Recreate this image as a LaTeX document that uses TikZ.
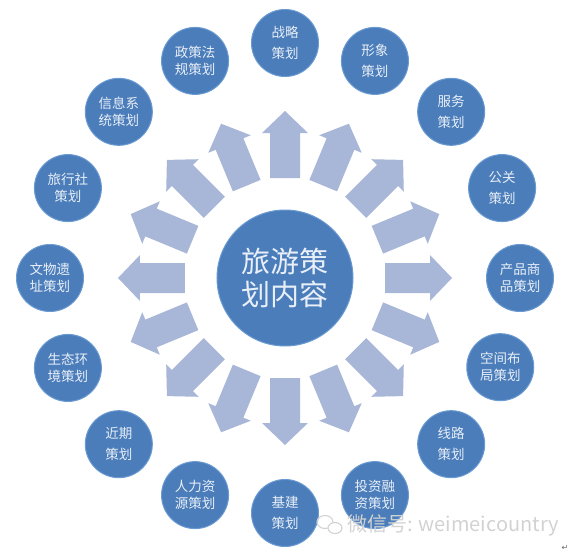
\documentclass[tikz,border=0pt]{standalone}
\usepackage{fontspec}
\newfontfamily\cjk{Noto Sans CJK SC}
\newfontfamily\dejavu{DejaVu Sans}
\definecolor{circblue}{HTML}{4A7DBA}
\definecolor{circrim}{HTML}{6A9AD2}
\definecolor{arrowfill}{HTML}{A8B7D7}
\definecolor{txtlight}{HTML}{E9EFF8}
\definecolor{wmark}{HTML}{D2D2D2}
\tikzset{
  bubble/.style={circle, fill=circblue, draw=circrim, line width=1pt,
    minimum size=67pt, inner sep=0pt, text=txtlight, align=center,
    font=\cjk\fontsize{13.5}{17}\selectfont},
  bubblewide/.style={bubble, font=\cjk\fontsize{13.5}{21}\selectfont},
  hub/.style={circle, fill=circblue, draw=circrim, line width=1pt,
    minimum size=136pt, inner sep=0pt, text=txtlight, align=center,
    font=\cjk\fontsize{29}{33}\selectfont},
  blockarrow/.style={fill=arrowfill},
}
\begin{document}
\begin{tikzpicture}[x=1pt,y=1pt]
\useasboundingbox (-285,-277) rectangle (287,278);
% radial block arrows
\foreach \a in {0,22.5,...,337.5}{
  \fill[blockarrow, rotate=\a]
    (100,-15) -- (145,-15) -- (145,-23) -- (167,0) -- (145,23)
    -- (145,15) -- (100,15) -- cycle;
}
% hub
\node[hub] (c) at (0,0) {旅游策\\划内容};
% outer bubbles
\node[bubblewide] (o1)  at (90:235)    {战略\\策划};
\node[bubblewide] (o2)  at (67.5:235)  {形象\\策划};
\node[bubblewide] (o3)  at (45:235)    {服务\\策划};
\node[bubblewide] (o4)  at (22.5:235)  {公关\\策划};
\node[bubble]     (o5)  at (0:235)     {产品商\\品策划};
\node[bubble]     (o6)  at (-22.5:233) {空间布\\局策划};
\node[bubblewide] (o7)  at (-45:235)   {线路\\策划};
\node[bubble]     (o8)  at (-67.5:235) {投资融\\资策划};
\node[bubblewide] (o9)  at (-90:235)   {基建\\策划};
\node[bubble]     (o10) at (-112.5:235){人力资\\源策划};
\node[bubblewide] (o11) at (-135:235)  {近期\\策划};
\node[bubble]     (o12) at (-157.5:235){生态环\\境策划};
\node[bubble]     (o13) at (180:235)   {文物遗\\址策划};
\node[bubble]     (o14) at (157.5:235) {旅行社\\策划};
\node[bubble]     (o15) at (135:235)   {信息系\\统策划};
\node[bubble]     (o16) at (112.5:235) {政策法\\规策划};
% watermark
\draw[wmark, line width=1.1pt] (40,-244) ellipse (8pt and 6.5pt);
\draw[wmark, line width=1.1pt, fill=white] (50,-250) ellipse (7pt and 5.5pt);
\node[anchor=west, inner sep=0pt, text=wmark, font=\cjk\fontsize{20}{20}\selectfont] (wm) at (62,-247) {微信号: weimeicountry};
\node[inner sep=0pt, text=black!60, font=\dejavu\fontsize{8}{8}\selectfont] (ret) at (280,-270) {↵};
\end{tikzpicture}
\end{document}
